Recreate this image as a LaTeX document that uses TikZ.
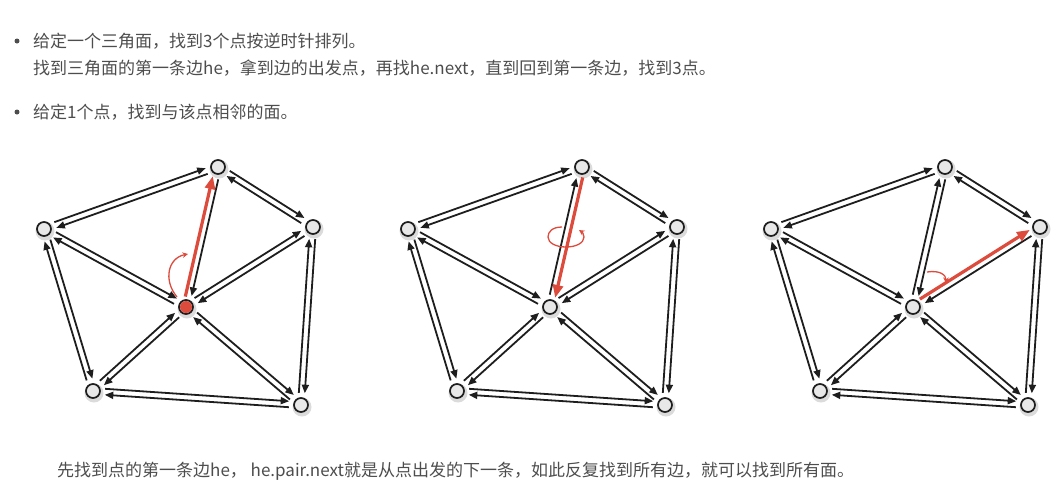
\documentclass[tikz,border=0pt]{standalone}
\usepackage{fontspec}
\setmainfont{Noto Sans CJK SC}
\usetikzlibrary{calc,arrows.meta}
\definecolor{txtgray}{RGB}{77,77,77}
\definecolor{hered}{RGB}{221,75,60}
\definecolor{vtxfill}{RGB}{232,232,232}
\definecolor{edgeblack}{RGB}{30,30,30}
\tikzset{
  vtx/.style={circle,draw=edgeblack,fill=vtxfill,line width=1.7pt,minimum size=14pt,inner sep=0pt},
  vshadow/.style={fill=black!14},
  hedge/.style={edgeblack,line width=1.8pt,shorten <=12pt,shorten >=12pt,-{Triangle[length=8.5pt,width=7pt]}},
  hearrow/.style={hered,line width=3.2pt,shorten <=10pt,shorten >=10pt,-{Triangle[length=13pt,width=10pt]}},
  turn/.style={hered,line width=1.3pt,-{Stealth[length=5.5pt,width=5.5pt]}},
  txt/.style={anchor=base west,inner sep=0pt,text=txtgray,font=\fontsize{17pt}{20pt}\selectfont},
}
\begin{document}
\begin{tikzpicture}[x=1pt,y=-1pt]
	\useasboundingbox (0,0) rectangle (1055,491);
	% text above
	\fill[txtgray] (17,41) circle (2.5);
	\node[txt] (line1) at (33,47.5) {给定一个三角面，找到3个点按逆时针排列。};
	\node[txt] (line2) at (33,74.5) {找到三角面的第一条边he，拿到边的出发点，再找he.next，直到回到第一条边，找到3点。};
	\fill[txtgray] (17,112) circle (2.5);
	\node[txt] (line3) at (33,118.5) {给定1个点，找到与该点相邻的面。};
	% three meshes
	\foreach \p/\dx in {1/0,2/364,3/727}{
		\begin{scope}[shift={(\dx,0)}]
			\foreach \n/\x/\y in {t/218/167,l/44/229,r/313/227,c/186/307,bl/93/391,br/301/405}{
				\fill[vshadow] (\x+1,\y+2) circle (9.5);
				\node[vtx] (\n\p) at (\x,\y) {};
			}
		\end{scope}
		\foreach \a/\b in {t/l,l/t,t/r,r/t,t/c,c/t,l/c,c/l,l/bl,bl/l,r/c,c/r,r/br,br/r,c/bl,bl/c,c/br,br/c,bl/br,br/bl}
			\draw[hedge] ($(\a\p)!3pt!90:(\b\p)$) -- ($(\b\p)!3pt!-90:(\a\p)$);
	}
	\fill[hered] (c1) circle (6);
	% highlighted half edges
	\draw[hearrow] ($(c1)!3pt!90:(t1)$) -- ($(t1)!3pt!-90:(c1)$);
	\draw[turn] (177,297) .. controls (163,280) and (168,258) .. (188,254);
	\draw[hearrow] ($(t2)!3pt!90:(c2)$) -- ($(c2)!3pt!-90:(t2)$);
	\draw[turn] (562,227) .. controls (552,227) and (548,232) .. (548,237) .. controls (548,243) and (556,247) .. (566,247) .. controls (576,247) and (584,243) .. (584,237) .. controls (584,234) and (582,232) .. (579,230);
	\draw[hearrow] ($(c3)!3pt!90:(r3)$) -- ($(r3)!3pt!-90:(c3)$);
	\draw[turn] (927,272) .. controls (940,270) and (946,275) .. (946,283);
	% text below
	\node[txt] (summary) at (57,476.5) {先找到点的第一条边he， he.pair.next就是从点出发的下一条，如此反复找到所有边，就可以找到所有面。};
\end{tikzpicture}
\end{document}
